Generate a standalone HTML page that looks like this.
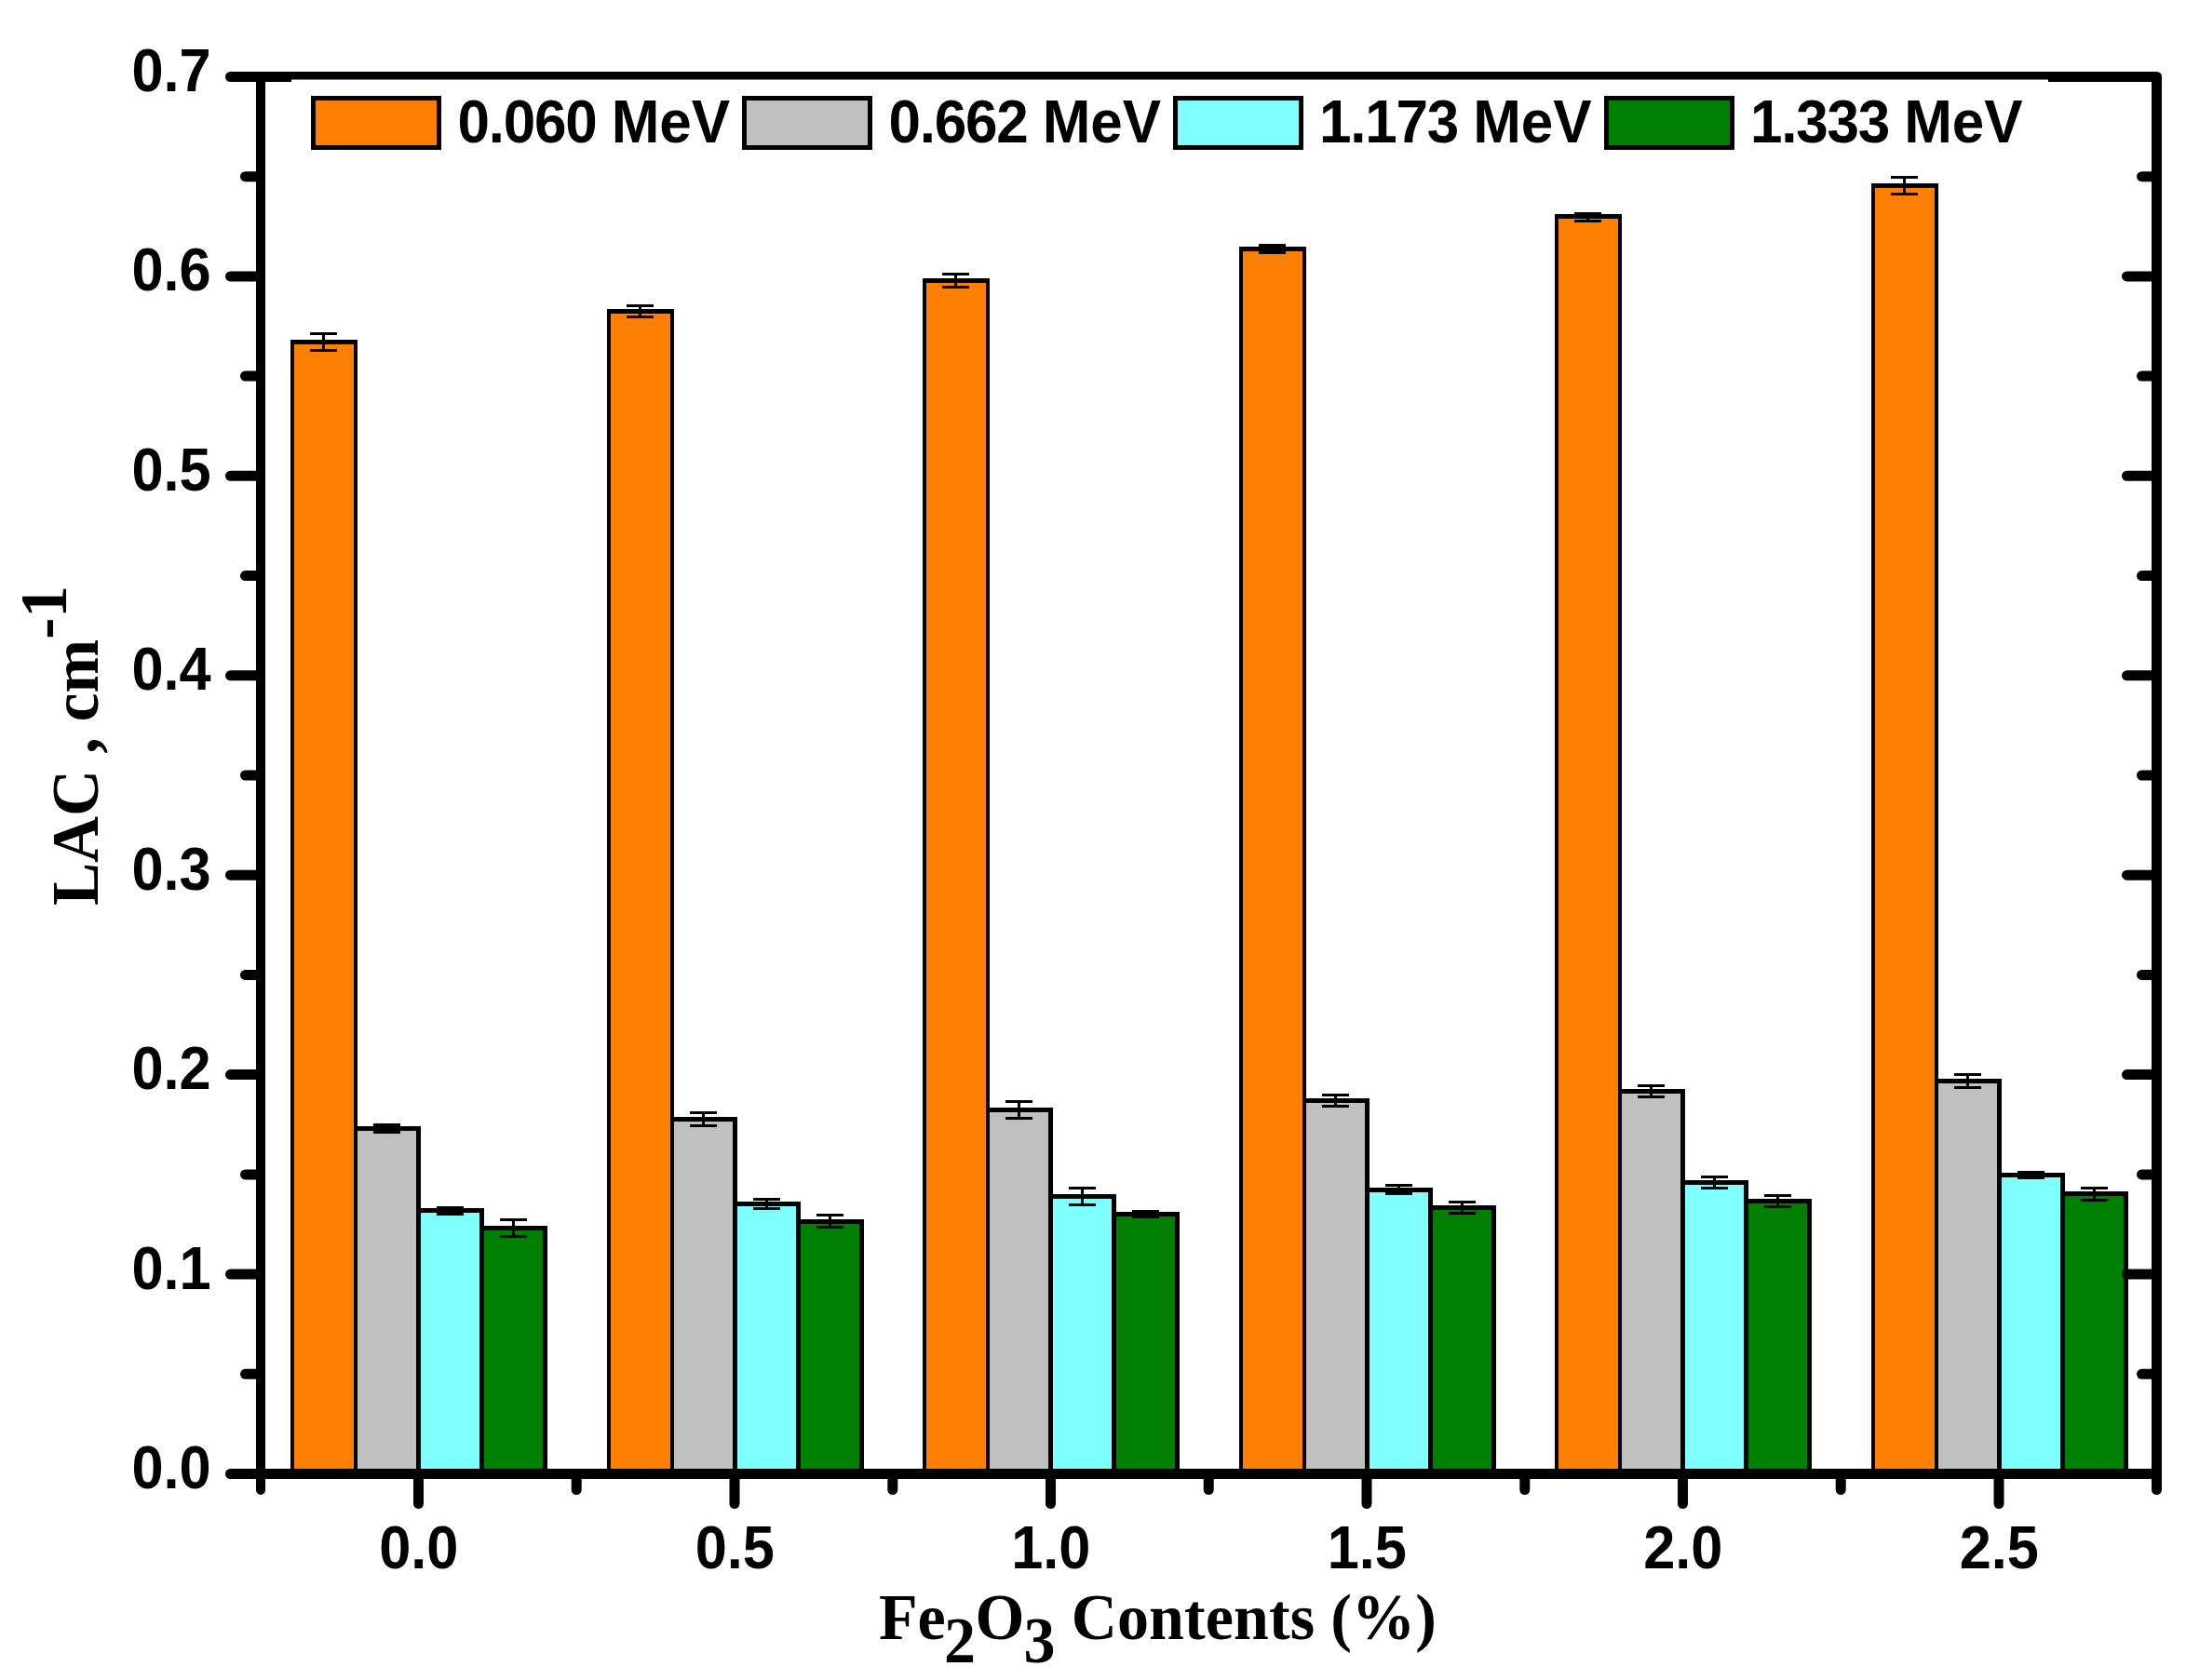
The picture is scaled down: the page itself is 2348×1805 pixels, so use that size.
<!DOCTYPE html>
<html lang="en"><head><meta charset="utf-8"><title>LAC vs Fe2O3 Contents</title>
<style>html,body{margin:0;padding:0;background:#fff}svg{display:block}.s{font-family:"Liberation Sans",Arial,sans-serif;font-weight:bold;font-size:62px;fill:#000}.t{font-family:"Liberation Serif","Times New Roman",serif;font-weight:bold;font-size:68px;fill:#000}</style></head><body>
<svg width="2348" height="1805" viewBox="0 0 2348 1805" shape-rendering="crispEdges">
<rect width="2348" height="1805" fill="#fff"/>
<g id="bars">
<rect x="312.0" y="365.0" width="72.0" height="1218.5" fill="#000"/>
<rect x="316.0" y="370.0" width="64.0" height="1213.5" fill="#FF8000"/>
<rect x="380.0" y="1210.0" width="72.0" height="373.5" fill="#000"/>
<rect x="384.0" y="1215.0" width="63.0" height="368.5" fill="#C0C0C0"/>
<rect x="447.0" y="1298.0" width="73.0" height="285.5" fill="#000"/>
<rect x="452.0" y="1303.0" width="63.0" height="280.5" fill="#80FFFF"/>
<rect x="515.0" y="1317.0" width="73.0" height="266.5" fill="#000"/>
<rect x="520.0" y="1322.0" width="63.0" height="261.5" fill="#008000"/>
<rect x="651.5" y="332.0" width="72.0" height="1251.5" fill="#000"/>
<rect x="655.5" y="337.0" width="64.0" height="1246.5" fill="#FF8000"/>
<rect x="719.5" y="1200.0" width="72.0" height="383.5" fill="#000"/>
<rect x="723.5" y="1205.0" width="63.0" height="378.5" fill="#C0C0C0"/>
<rect x="786.5" y="1291.0" width="73.0" height="292.5" fill="#000"/>
<rect x="791.5" y="1296.0" width="63.0" height="287.5" fill="#80FFFF"/>
<rect x="854.5" y="1310.0" width="73.0" height="273.5" fill="#000"/>
<rect x="859.5" y="1315.0" width="63.0" height="268.5" fill="#008000"/>
<rect x="991.0" y="299.0" width="72.0" height="1284.5" fill="#000"/>
<rect x="995.0" y="304.0" width="64.0" height="1279.5" fill="#FF8000"/>
<rect x="1059.0" y="1190.0" width="72.0" height="393.5" fill="#000"/>
<rect x="1063.0" y="1195.0" width="63.0" height="388.5" fill="#C0C0C0"/>
<rect x="1126.0" y="1283.0" width="73.0" height="300.5" fill="#000"/>
<rect x="1131.0" y="1288.0" width="63.0" height="295.5" fill="#80FFFF"/>
<rect x="1194.0" y="1302.0" width="73.0" height="281.5" fill="#000"/>
<rect x="1199.0" y="1307.0" width="63.0" height="276.5" fill="#008000"/>
<rect x="1330.5" y="265.0" width="72.0" height="1318.5" fill="#000"/>
<rect x="1334.5" y="270.0" width="64.0" height="1313.5" fill="#FF8000"/>
<rect x="1398.5" y="1180.0" width="72.0" height="403.5" fill="#000"/>
<rect x="1402.5" y="1185.0" width="63.0" height="398.5" fill="#C0C0C0"/>
<rect x="1465.5" y="1276.0" width="73.0" height="307.5" fill="#000"/>
<rect x="1470.5" y="1281.0" width="63.0" height="302.5" fill="#80FFFF"/>
<rect x="1533.5" y="1295.0" width="73.0" height="288.5" fill="#000"/>
<rect x="1538.5" y="1300.0" width="63.0" height="283.5" fill="#008000"/>
<rect x="1670.0" y="230.0" width="72.0" height="1353.5" fill="#000"/>
<rect x="1674.0" y="235.0" width="64.0" height="1348.5" fill="#FF8000"/>
<rect x="1738.0" y="1170.0" width="72.0" height="413.5" fill="#000"/>
<rect x="1742.0" y="1175.0" width="63.0" height="408.5" fill="#C0C0C0"/>
<rect x="1805.0" y="1268.0" width="73.0" height="315.5" fill="#000"/>
<rect x="1810.0" y="1273.0" width="63.0" height="310.5" fill="#80FFFF"/>
<rect x="1873.0" y="1288.0" width="73.0" height="295.5" fill="#000"/>
<rect x="1878.0" y="1293.0" width="63.0" height="290.5" fill="#008000"/>
<rect x="2009.5" y="197.0" width="72.0" height="1386.5" fill="#000"/>
<rect x="2013.5" y="202.0" width="64.0" height="1381.5" fill="#FF8000"/>
<rect x="2077.5" y="1159.0" width="72.0" height="424.5" fill="#000"/>
<rect x="2081.5" y="1164.0" width="63.0" height="419.5" fill="#C0C0C0"/>
<rect x="2144.5" y="1260.0" width="73.0" height="323.5" fill="#000"/>
<rect x="2149.5" y="1265.0" width="63.0" height="318.5" fill="#80FFFF"/>
<rect x="2212.5" y="1280.0" width="73.0" height="303.5" fill="#000"/>
<rect x="2217.5" y="1285.0" width="63.0" height="298.5" fill="#008000"/>
</g>
<g id="errorbars" fill="#000">
<rect x="333.0" y="357.0" width="29" height="3"/>
<rect x="333.0" y="375.0" width="29" height="3"/>
<rect x="346.0" y="358.5" width="3" height="18.0"/>
<rect x="401.0" y="1207.0" width="29" height="3"/>
<rect x="401.0" y="1215.0" width="29" height="3"/>
<rect x="414.0" y="1208.5" width="3" height="8.0"/>
<rect x="469.0" y="1296.0" width="29" height="3"/>
<rect x="469.0" y="1303.0" width="29" height="3"/>
<rect x="482.0" y="1297.5" width="3" height="7.0"/>
<rect x="537.0" y="1309.0" width="29" height="3"/>
<rect x="537.0" y="1327.0" width="29" height="3"/>
<rect x="550.0" y="1310.5" width="3" height="18.0"/>
<rect x="672.5" y="327.0" width="29" height="3"/>
<rect x="672.5" y="339.0" width="29" height="3"/>
<rect x="685.5" y="328.5" width="3" height="12.0"/>
<rect x="740.5" y="1194.0" width="29" height="3"/>
<rect x="740.5" y="1208.0" width="29" height="3"/>
<rect x="753.5" y="1195.5" width="3" height="14.0"/>
<rect x="808.5" y="1287.0" width="29" height="3"/>
<rect x="808.5" y="1297.0" width="29" height="3"/>
<rect x="821.5" y="1288.5" width="3" height="10.0"/>
<rect x="876.5" y="1304.0" width="29" height="3"/>
<rect x="876.5" y="1317.0" width="29" height="3"/>
<rect x="889.5" y="1305.5" width="3" height="13.0"/>
<rect x="1012.0" y="293.0" width="29" height="3"/>
<rect x="1012.0" y="307.0" width="29" height="3"/>
<rect x="1025.0" y="294.5" width="3" height="14.0"/>
<rect x="1080.0" y="1182.0" width="29" height="3"/>
<rect x="1080.0" y="1200.0" width="29" height="3"/>
<rect x="1093.0" y="1183.5" width="3" height="18.0"/>
<rect x="1148.0" y="1275.0" width="29" height="3"/>
<rect x="1148.0" y="1293.0" width="29" height="3"/>
<rect x="1161.0" y="1276.5" width="3" height="18.0"/>
<rect x="1216.0" y="1300.0" width="29" height="3"/>
<rect x="1216.0" y="1306.0" width="29" height="3"/>
<rect x="1229.0" y="1301.5" width="3" height="6.0"/>
<rect x="1351.5" y="262.0" width="29" height="3"/>
<rect x="1351.5" y="270.0" width="29" height="3"/>
<rect x="1364.5" y="263.5" width="3" height="8.0"/>
<rect x="1419.5" y="1175.0" width="29" height="3"/>
<rect x="1419.5" y="1187.0" width="29" height="3"/>
<rect x="1432.5" y="1176.5" width="3" height="12.0"/>
<rect x="1487.5" y="1272.0" width="29" height="3"/>
<rect x="1487.5" y="1281.0" width="29" height="3"/>
<rect x="1500.5" y="1273.5" width="3" height="9.0"/>
<rect x="1555.5" y="1290.0" width="29" height="3"/>
<rect x="1555.5" y="1302.0" width="29" height="3"/>
<rect x="1568.5" y="1291.5" width="3" height="12.0"/>
<rect x="1691.0" y="228.0" width="29" height="3"/>
<rect x="1691.0" y="236.0" width="29" height="3"/>
<rect x="1704.0" y="229.5" width="3" height="8.0"/>
<rect x="1759.0" y="1165.0" width="29" height="3"/>
<rect x="1759.0" y="1177.0" width="29" height="3"/>
<rect x="1772.0" y="1166.5" width="3" height="12.0"/>
<rect x="1827.0" y="1263.0" width="29" height="3"/>
<rect x="1827.0" y="1275.0" width="29" height="3"/>
<rect x="1840.0" y="1264.5" width="3" height="12.0"/>
<rect x="1895.0" y="1283.0" width="29" height="3"/>
<rect x="1895.0" y="1295.0" width="29" height="3"/>
<rect x="1908.0" y="1284.5" width="3" height="12.0"/>
<rect x="2030.5" y="189.0" width="29" height="3"/>
<rect x="2030.5" y="207.0" width="29" height="3"/>
<rect x="2043.5" y="190.5" width="3" height="18.0"/>
<rect x="2098.5" y="1153.0" width="29" height="3"/>
<rect x="2098.5" y="1167.0" width="29" height="3"/>
<rect x="2111.5" y="1154.5" width="3" height="14.0"/>
<rect x="2166.5" y="1258.0" width="29" height="3"/>
<rect x="2166.5" y="1264.0" width="29" height="3"/>
<rect x="2179.5" y="1259.5" width="3" height="6.0"/>
<rect x="2234.5" y="1275.0" width="29" height="3"/>
<rect x="2234.5" y="1288.0" width="29" height="3"/>
<rect x="2247.5" y="1276.5" width="3" height="13.0"/>
</g>
<g id="axes" fill="#000" stroke="none" shape-rendering="geometricPrecision">
<rect x="275" y="77" width="10" height="1524"/>
<circle cx="280" cy="1601" r="5"/>
<rect x="2311" y="82" width="11" height="1518.5"/>
<rect x="280" y="77" width="2036" height="8.5"/>
<rect x="250" y="77" width="63" height="11"/>
<rect x="2200" y="77" width="116" height="11"/>
<rect x="247.5" y="1578" width="2074.5" height="11"/>
</g>
<g id="ticks" stroke="#000" stroke-width="11" stroke-linecap="round" fill="none" shape-rendering="geometricPrecision">
<path d="M247.5 82.5H260"/>
<path d="M2310 82.5H2316.5"/>
<path d="M247.5 1583.5H277"/>
<path d="M263.5 1476.3H277"/>
<path d="M2300.5 1476.3H2316"/>
<path d="M247.5 1369.1H277"/>
<path d="M2284.5 1369.1H2316"/>
<path d="M263.5 1261.9H277"/>
<path d="M2300.5 1261.9H2316"/>
<path d="M247.5 1154.6H277"/>
<path d="M2284.5 1154.6H2316"/>
<path d="M263.5 1047.4H277"/>
<path d="M2300.5 1047.4H2316"/>
<path d="M247.5 940.2H277"/>
<path d="M2284.5 940.2H2316"/>
<path d="M263.5 833.0H277"/>
<path d="M2300.5 833.0H2316"/>
<path d="M247.5 725.8H277"/>
<path d="M2284.5 725.8H2316"/>
<path d="M263.5 618.6H277"/>
<path d="M2300.5 618.6H2316"/>
<path d="M247.5 511.3H277"/>
<path d="M2284.5 511.3H2316"/>
<path d="M263.5 404.1H277"/>
<path d="M2300.5 404.1H2316"/>
<path d="M247.5 296.9H277"/>
<path d="M2284.5 296.9H2316"/>
<path d="M263.5 189.7H277"/>
<path d="M2300.5 189.7H2316"/>
<path d="M449.5 1583.5V1615.5"/>
<path d="M789.0 1583.5V1615.5"/>
<path d="M1128.5 1583.5V1615.5"/>
<path d="M1468.0 1583.5V1615.5"/>
<path d="M1807.5 1583.5V1615.5"/>
<path d="M2147.0 1583.5V1615.5"/>
<path d="M619.2 1583.5V1600.5"/>
<path d="M958.8 1583.5V1600.5"/>
<path d="M1298.2 1583.5V1600.5"/>
<path d="M1637.8 1583.5V1600.5"/>
<path d="M1977.2 1583.5V1600.5"/>
<path d="M2316.5 1583.5V1600.5"/>
</g>
<g id="ylabels">
<text class="s" text-anchor="end" transform="translate(226.7 1598.9) scale(0.99 1.04)">0.0</text>
<text class="s" text-anchor="end" transform="translate(226.7 1384.5) scale(0.99 1.04)">0.1</text>
<text class="s" text-anchor="end" transform="translate(226.7 1170.0) scale(0.99 1.04)">0.2</text>
<text class="s" text-anchor="end" transform="translate(226.7 955.6) scale(0.99 1.04)">0.3</text>
<text class="s" text-anchor="end" transform="translate(226.7 741.2) scale(0.99 1.04)">0.4</text>
<text class="s" text-anchor="end" transform="translate(226.7 526.7) scale(0.99 1.04)">0.5</text>
<text class="s" text-anchor="end" transform="translate(226.7 312.3) scale(0.99 1.04)">0.6</text>
<text class="s" text-anchor="end" transform="translate(226.7 97.9) scale(0.99 1.04)">0.7</text>
</g>
<g id="xlabels">
<text class="s" text-anchor="middle" transform="translate(449.8 1685.2) scale(0.99 1.04)">0.0</text>
<text class="s" text-anchor="middle" transform="translate(789.3 1685.2) scale(0.99 1.04)">0.5</text>
<text class="s" text-anchor="middle" transform="translate(1128.8 1685.2) scale(0.99 1.04)">1.0</text>
<text class="s" text-anchor="middle" transform="translate(1468.3 1685.2) scale(0.99 1.04)">1.5</text>
<text class="s" text-anchor="middle" transform="translate(1807.8 1685.2) scale(0.99 1.04)">2.0</text>
<text class="s" text-anchor="middle" transform="translate(2147.3 1685.2) scale(0.99 1.04)">2.5</text>
</g>
<g id="legend">
<rect x="334" y="103" width="140" height="58" fill="#000"/>
<rect x="339" y="108" width="130" height="48" fill="#FF8000"/>
<text class="s" text-anchor="start" transform="translate(491.5 153.0) scale(1.0 1.06)"><tspan letter-spacing="-1.2">0.060 </tspan>MeV</text>
<rect x="797" y="103" width="140" height="58" fill="#000"/>
<rect x="802" y="108" width="130" height="48" fill="#C0C0C0"/>
<text class="s" text-anchor="start" transform="translate(954.5 153.0) scale(1.0 1.06)"><tspan letter-spacing="-1.2">0.662 </tspan>MeV</text>
<rect x="1259.5" y="103" width="140" height="58" fill="#000"/>
<rect x="1264.5" y="108" width="130" height="48" fill="#80FFFF"/>
<text class="s" text-anchor="start" transform="translate(1417.0 153.0) scale(1.0 1.06)"><tspan letter-spacing="-1.2">1.173 </tspan>MeV</text>
<rect x="1722.5" y="103" width="140" height="58" fill="#000"/>
<rect x="1727.5" y="108" width="130" height="48" fill="#008000"/>
<text class="s" text-anchor="start" transform="translate(1880.0 153.0) scale(1.0 1.06)"><tspan letter-spacing="-1.2">1.333 </tspan>MeV</text>
</g>
<text class="t" transform="translate(0 1761.3) scale(1 1.022)"><tspan x="944">Fe</tspan><tspan x="1013.9" dy="24.07">2</tspan><tspan x="1047.5" dy="-24.07">O</tspan><tspan x="1099.4" dy="24.07">3</tspan><tspan x="1133.7" dy="-24.07" letter-spacing="0.1"> Contents (%)</tspan></text>
<text class="t" transform="translate(104.8 973) rotate(-90) scale(1.017 1.045)">LAC , cm<tspan dy="-32.15">-1</tspan></text>
</svg></body></html>
